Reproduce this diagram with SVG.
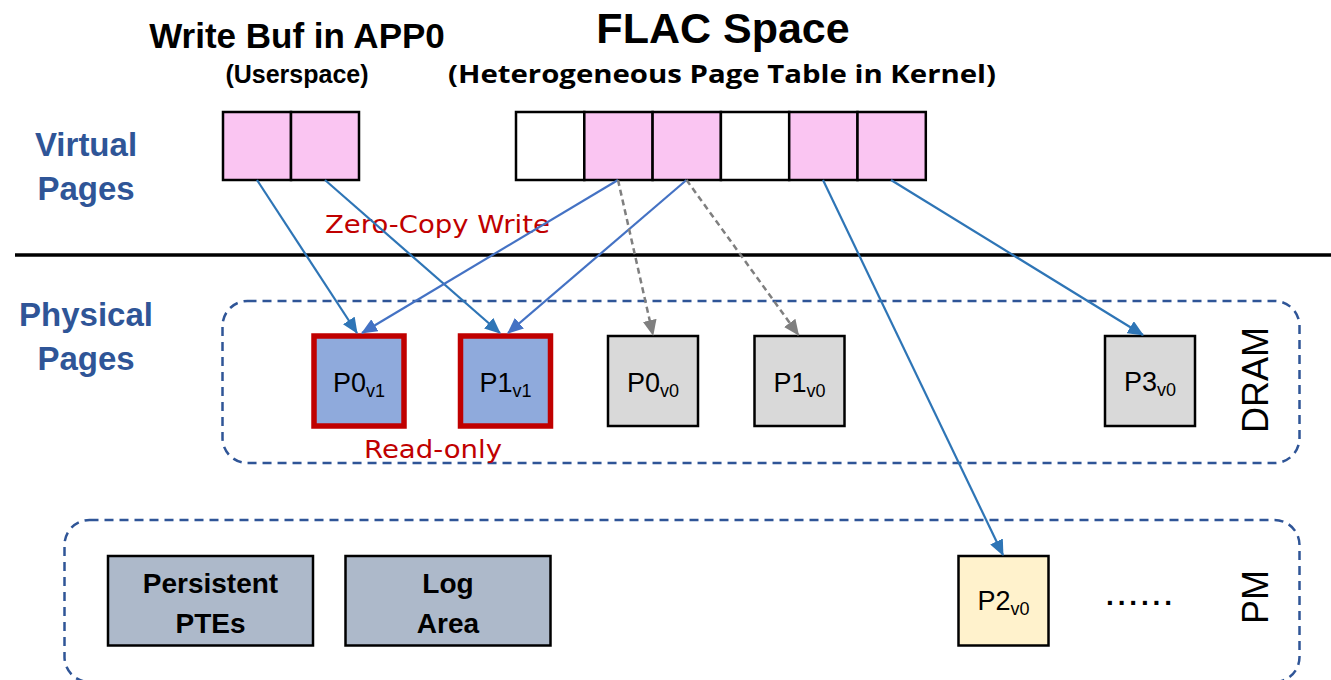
<svg xmlns="http://www.w3.org/2000/svg" width="1331" height="680" viewBox="0 0 1331 680">
  <style>
    .title { font-family: "Liberation Sans", Arial, sans-serif; font-weight: bold; fill: #000; text-anchor: middle; }
    .wide { font-family: "Open Sans", "Liberation Sans", sans-serif; }
    .side { font-family: "Liberation Sans", Arial, sans-serif; font-weight: bold; font-size: 33px; fill: #2F5597; text-anchor: middle; }
    .note { font-family: "DejaVu Sans", "Liberation Sans", sans-serif; font-size: 25px; fill: #C00000; text-anchor: middle; }
    .vpage { stroke: #000; stroke-width: 2.5; }
    .pink { fill: #FAC5F2; }
    .blank { fill: #FFFFFF; }
    .region { fill: none; stroke: #2F5597; stroke-width: 2.5; stroke-dasharray: 9 6; }
    .ppage { stroke: #000; stroke-width: 2.5; }
    .ro { fill: #8FAADC; stroke: #C00000; stroke-width: 5.5; }
    .dram { fill: #D9D9D9; }
    .pm { fill: #FFF2CC; }
    .meta { fill: #ADB9CA; }
    .lbl { font-family: "Liberation Sans", Arial, sans-serif; font-size: 27px; fill: #000; text-anchor: middle; }
    .sub { font-size: 18px; }
    .mlbl { font-family: "Liberation Sans", Arial, sans-serif; font-weight: bold; font-size: 28px; fill: #000; text-anchor: middle; }
    .vert { font-family: "Liberation Sans", Arial, sans-serif; font-size: 36px; fill: #000; text-anchor: middle; }
    .map1 { fill: none; stroke: #2E75B6; stroke-width: 2.2; marker-end: url(#headA); }
    .map2 { fill: none; stroke: #4472C4; stroke-width: 2.2; marker-end: url(#headB); }
    .old { fill: none; stroke: #7F7F7F; stroke-width: 2.5; stroke-dasharray: 6 4; marker-end: url(#headG); }
  </style>
  <defs>
    <marker id="headA" markerUnits="userSpaceOnUse" viewBox="0 0 16 14" markerWidth="16" markerHeight="14" refX="15" refY="7" orient="auto">
      <path d="M0,0 L16,7 L0,14 z" fill="#2E75B6"/>
    </marker>
    <marker id="headB" markerUnits="userSpaceOnUse" viewBox="0 0 16 14" markerWidth="16" markerHeight="14" refX="15" refY="7" orient="auto">
      <path d="M0,0 L16,7 L0,14 z" fill="#4472C4"/>
    </marker>
    <marker id="headG" markerUnits="userSpaceOnUse" viewBox="0 0 16 14" markerWidth="16" markerHeight="14" refX="15" refY="7" orient="auto">
      <path d="M0,0 L16,7 L0,14 z" fill="#7F7F7F"/>
    </marker>
  </defs>

  <rect width="1331" height="680" fill="#FFFFFF"/>

  <!-- headings -->
  <g id="headings">
    <text class="title" x="297" y="48" font-size="35">Write Buf in APP0</text>
    <text class="title" x="297" y="83" font-size="25">(Userspace)</text>
    <text class="title" x="723" y="43" font-size="43">FLAC Space</text>
    <text class="title wide" x="722" y="83" font-size="25" textLength="548" lengthAdjust="spacingAndGlyphs">(Heterogeneous Page Table in Kernel)</text>
  </g>

  <!-- row labels -->
  <g id="row-labels">
    <text class="side" x="86" y="156">Virtual</text>
    <text class="side" x="86" y="200">Pages</text>
    <text class="side" x="86" y="326">Physical</text>
    <text class="side" x="86" y="370">Pages</text>
  </g>

  <!-- virtual/physical divider -->
  <line id="divider" x1="15" y1="255" x2="1331" y2="255" stroke="#000" stroke-width="3.5"/>

  <!-- memory regions -->
  <g id="dram-region">
    <rect class="region" x="222.5" y="301" width="1077" height="162" rx="25"/>
    <text class="vert" transform="translate(1268,380) rotate(-90)">DRAM</text>
  </g>
  <g id="pm-region">
    <rect class="region" x="64.5" y="520" width="1235" height="162" rx="25"/>
    <text class="vert" transform="translate(1268,597) rotate(-90)">PM</text>
  </g>

  <!-- userspace write buffer -->
  <g id="user-buf">
    <rect class="vpage pink" x="223" y="112" width="68" height="68"/>
    <rect class="vpage pink" x="291" y="112" width="68" height="68"/>
  </g>

  <!-- FLAC virtual pages -->
  <g id="flac-space">
    <rect class="vpage blank" x="516" y="112" width="68.3" height="68"/>
    <rect class="vpage pink" x="584.3" y="112" width="68.3" height="68"/>
    <rect class="vpage pink" x="652.6" y="112" width="68.3" height="68"/>
    <rect class="vpage blank" x="720.9" y="112" width="68.3" height="68"/>
    <rect class="vpage pink" x="789.2" y="112" width="68.3" height="68"/>
    <rect class="vpage pink" x="857.5" y="112" width="68.3" height="68"/>
  </g>

  <!-- DRAM pages -->
  <g id="p0-v1">
    <rect class="ro" x="314" y="336" width="90" height="90"/>
    <text class="lbl" x="359" y="392">P0<tspan class="sub" dy="5">v1</tspan></text>
  </g>
  <g id="p1-v1">
    <rect class="ro" x="460.5" y="336" width="90" height="90"/>
    <text class="lbl" x="505.5" y="392">P1<tspan class="sub" dy="5">v1</tspan></text>
  </g>
  <g id="p0-v0">
    <rect class="ppage dram" x="608" y="336" width="90" height="90"/>
    <text class="lbl" x="653" y="392">P0<tspan class="sub" dy="5">v0</tspan></text>
  </g>
  <g id="p1-v0">
    <rect class="ppage dram" x="754.5" y="336" width="90" height="90"/>
    <text class="lbl" x="799.5" y="392">P1<tspan class="sub" dy="5">v0</tspan></text>
  </g>
  <g id="p3-v0">
    <rect class="ppage dram" x="1105" y="336" width="90" height="90"/>
    <text class="lbl" x="1150" y="391" font-size="25">P3<tspan class="sub" dy="5">v0</tspan></text>
  </g>

  <!-- PM contents -->
  <g id="persistent-ptes">
    <rect class="ppage meta" x="108" y="556" width="205" height="89.5"/>
    <text class="mlbl" x="210.5" y="593">Persistent</text>
    <text class="mlbl" x="210.5" y="633">PTEs</text>
  </g>
  <g id="log-area">
    <rect class="ppage meta" x="345.5" y="556" width="205" height="89.5"/>
    <text class="mlbl" x="448" y="593">Log</text>
    <text class="mlbl" x="448" y="633">Area</text>
  </g>
  <g id="p2-v0">
    <rect class="ppage pm" x="958.5" y="556" width="90" height="89.5"/>
    <text class="lbl" x="1003.5" y="610" font-size="25">P2<tspan class="sub" dy="5">v0</tspan></text>
  </g>
  <g id="more-pages">
    <text class="mlbl" x="1139" y="605" font-size="38" textLength="66" lengthAdjust="spacing">......</text>
  </g>

  <!-- annotations -->
  <g id="annotations">
    <text class="note" x="437.5" y="233" textLength="225" lengthAdjust="spacingAndGlyphs">Zero-Copy Write</text>
    <text class="note" x="433" y="458" font-size="26" textLength="138" lengthAdjust="spacingAndGlyphs">Read-only</text>
  </g>

  <!-- page mappings -->
  <g id="connectors">
    <line class="map1" x1="257" y1="180" x2="357" y2="333"/>
    <line class="map1" x1="325" y1="180" x2="500" y2="333"/>
    <line class="map2" x1="618" y1="180" x2="362" y2="333"/>
    <line class="map2" x1="686.5" y1="180" x2="508" y2="333"/>
    <line class="old" x1="618" y1="180" x2="653" y2="335"/>
    <line class="old" x1="686.5" y1="180" x2="798.5" y2="335"/>
    <line class="map1" x1="823" y1="180" x2="1003" y2="555"/>
    <line class="map1" x1="891" y1="180" x2="1143" y2="335"/>
  </g>
</svg>
